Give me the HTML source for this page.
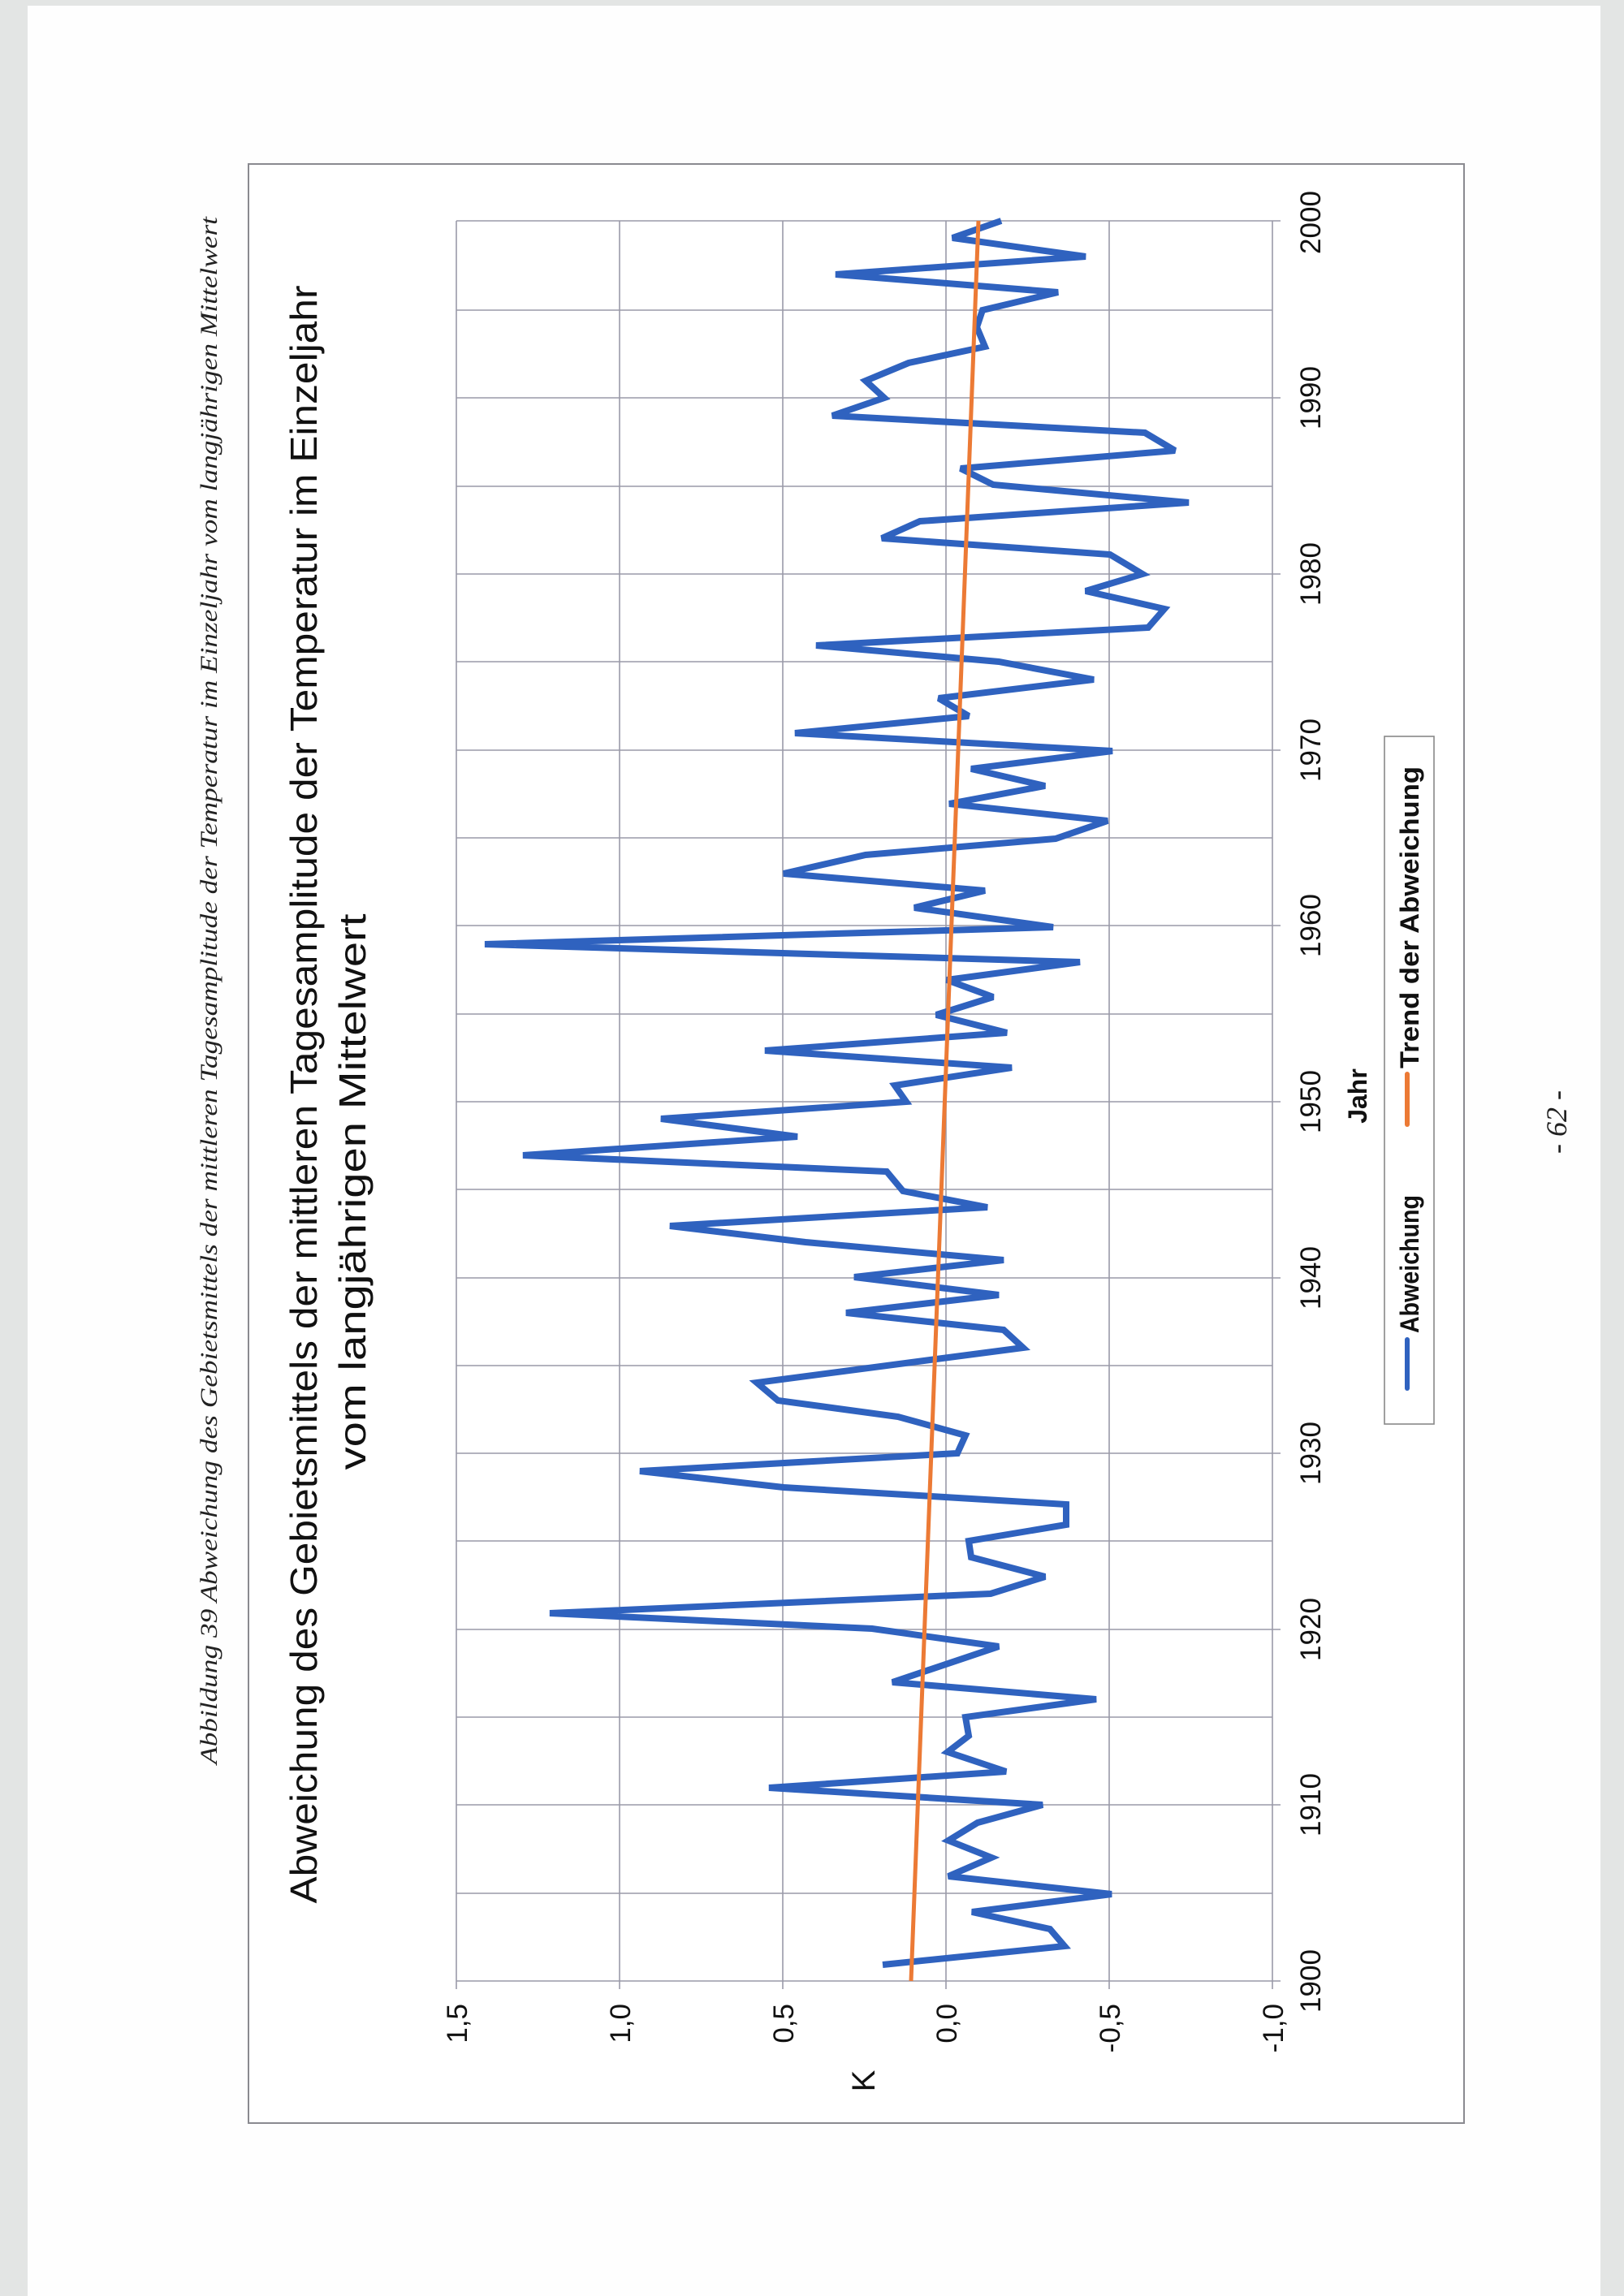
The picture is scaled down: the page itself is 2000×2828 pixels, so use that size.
<!DOCTYPE html>
<html><head><meta charset="utf-8"><style>
html,body{margin:0;padding:0;background:#fff}
svg{display:block}
</style></head><body>
<svg width="2000" height="2828" viewBox="0 0 2000 2828" xmlns="http://www.w3.org/2000/svg">
<rect x="0" y="0" width="2000" height="2828" fill="#e3e5e4"/>
<rect x="34" y="7" width="1937" height="2821" fill="#fefefe"/>
<!-- chart border -->
<rect x="306" y="202" width="1497" height="2413" fill="#fff" stroke="#8a8a90" stroke-width="2"/>
<!-- caption -->
<text transform="translate(267,1220) rotate(-90)" text-anchor="middle" font-family="Liberation Serif, serif" font-style="italic" font-size="30" textLength="1906" lengthAdjust="spacingAndGlyphs" fill="#222">Abbildung 39 Abweichung des Gebietsmittels der mittleren Tagesamplitude der Temperatur im Einzeljahr vom langjährigen Mittelwert</text>
<!-- title -->
<text transform="translate(390,1348) rotate(-90)" text-anchor="middle" font-family="Liberation Sans, sans-serif" font-size="46" textLength="1993" lengthAdjust="spacingAndGlyphs" fill="#111">Abweichung des Gebietsmittels der mittleren Tagesamplitude der Temperatur im Einzeljahr</text>
<text transform="translate(450,1468) rotate(-90)" text-anchor="middle" font-family="Liberation Sans, sans-serif" font-size="46" textLength="685" lengthAdjust="spacingAndGlyphs" fill="#111">vom langjährigen Mittelwert</text>
<!-- grid -->
<g stroke="#9a9aa8" stroke-width="1.6" fill="none">
<line x1="562" y1="272" x2="562" y2="2450"/>
<line x1="763" y1="272" x2="763" y2="2450"/>
<line x1="964" y1="272" x2="964" y2="2450"/>
<line x1="1165" y1="272" x2="1165" y2="2450"/>
<line x1="1366" y1="272" x2="1366" y2="2450"/>
<line x1="1567" y1="272" x2="1567" y2="2450"/>
<line x1="562" y1="2440" x2="1577" y2="2440"/>
<line x1="562" y1="2332" x2="1567" y2="2332"/>
<line x1="562" y1="2223" x2="1577" y2="2223"/>
<line x1="562" y1="2115" x2="1567" y2="2115"/>
<line x1="562" y1="2007" x2="1577" y2="2007"/>
<line x1="562" y1="1898" x2="1567" y2="1898"/>
<line x1="562" y1="1790" x2="1577" y2="1790"/>
<line x1="562" y1="1682" x2="1567" y2="1682"/>
<line x1="562" y1="1574" x2="1577" y2="1574"/>
<line x1="562" y1="1465" x2="1567" y2="1465"/>
<line x1="562" y1="1357" x2="1577" y2="1357"/>
<line x1="562" y1="1249" x2="1567" y2="1249"/>
<line x1="562" y1="1140" x2="1577" y2="1140"/>
<line x1="562" y1="1032" x2="1567" y2="1032"/>
<line x1="562" y1="924" x2="1577" y2="924"/>
<line x1="562" y1="815" x2="1567" y2="815"/>
<line x1="562" y1="707" x2="1577" y2="707"/>
<line x1="562" y1="599" x2="1567" y2="599"/>
<line x1="562" y1="490" x2="1577" y2="490"/>
<line x1="562" y1="382" x2="1567" y2="382"/>
<line x1="562" y1="272" x2="1577" y2="272"/>
</g>
<!-- value labels -->
<g font-family="Liberation Sans, sans-serif" font-size="35" fill="#111" text-anchor="end">
<text transform="translate(575,2468) rotate(-90)">1,5</text>
<text transform="translate(776,2468) rotate(-90)">1,0</text>
<text transform="translate(977,2468) rotate(-90)">0,5</text>
<text transform="translate(1178,2468) rotate(-90)">0,0</text>
<text transform="translate(1379,2468) rotate(-90)">-0,5</text>
<text transform="translate(1580,2468) rotate(-90)">-1,0</text>
</g>
<text transform="translate(1077,2563) rotate(-90)" text-anchor="middle" font-family="Liberation Sans, sans-serif" font-size="40" fill="#111">K</text>
<!-- year labels -->
<g font-family="Liberation Sans, sans-serif" font-size="35" fill="#111" text-anchor="middle">
<text transform="translate(1626,2440) rotate(-90)">1900</text>
<text transform="translate(1626,2223) rotate(-90)">1910</text>
<text transform="translate(1626,2007) rotate(-90)">1920</text>
<text transform="translate(1626,1790) rotate(-90)">1930</text>
<text transform="translate(1626,1574) rotate(-90)">1940</text>
<text transform="translate(1626,1357) rotate(-90)">1950</text>
<text transform="translate(1626,1140) rotate(-90)">1960</text>
<text transform="translate(1626,924) rotate(-90)">1970</text>
<text transform="translate(1626,707) rotate(-90)">1980</text>
<text transform="translate(1626,490) rotate(-90)">1990</text>
<text transform="translate(1626,274) rotate(-90)">2000</text>
</g>
<text transform="translate(1683,1350) rotate(-90)" text-anchor="middle" font-family="Liberation Sans, sans-serif" font-weight="bold" font-size="32" fill="#111">Jahr</text>
<!-- series -->
<polyline fill="none" stroke="#2f62bf" stroke-width="8" stroke-linejoin="miter" stroke-miterlimit="3" points="1087,2420 1311,2397 1293,2376 1197,2355 1369,2333 1168,2311 1221,2288 1168,2267 1204,2245 1284,2223 947,2202 1239,2182 1167,2158 1193,2138 1189,2115 1350,2093 1099,2072 1230,2028 1074,2006 677,1987 1220,1963 1287,1942 1196,1918 1193,1898 1313,1878 1313,1853 965,1832 788,1812 1179,1790 1189,1768 1106,1745 958,1725 932,1703 1260,1660 1236,1638 1042,1617 1230,1595 1052,1573 1236,1552 992,1530 825,1510 1216,1487 1112,1467 1092,1443 644,1423 982,1400 814,1378 1116,1357 1102,1337 1246,1315 942,1294 1240,1272 1153,1250 1223,1228 1166,1207 1330,1185 597,1163 1297,1142 1126,1118 1213,1097 965,1076 1066,1053 1300,1033 1364,1011 1169,990 1287,968 1196,947 1370,925 979,903 1193,882 1156,860 1347,837 1230,815 1005,795 1414,773 1434,750 1337,728 1407,707 1367,683 1086,663 1133,642 1464,619 1223,597 1183,577 1447,555 1410,533 1025,512 1089,490 1066,469 1119,447 1213,427 1203,403 1210,382 1303,360 1029,338 1337,316 1173,293 1233,272"/>
<line x1="1122" y1="2440" x2="1205" y2="272" stroke="#ec7a35" stroke-width="5"/>
<!-- legend -->
<rect x="1705" y="907" width="61" height="847" fill="#fff" stroke="#888" stroke-width="1.6"/>
<line x1="1733" y1="1650" x2="1733" y2="1710" stroke="#2f62bf" stroke-width="6" stroke-linecap="round"/>
<text transform="translate(1747,1642) rotate(-90)" font-family="Liberation Sans, sans-serif" font-weight="bold" font-size="32" textLength="170" lengthAdjust="spacingAndGlyphs" fill="#111">Abweichung</text>
<line x1="1733" y1="1323" x2="1733" y2="1385" stroke="#ec7a35" stroke-width="6" stroke-linecap="round"/>
<text transform="translate(1747,1316) rotate(-90)" font-family="Liberation Sans, sans-serif" font-weight="bold" font-size="32" textLength="372" lengthAdjust="spacingAndGlyphs" fill="#111">Trend der Abweichung</text>
<!-- page number -->
<text transform="translate(1929,1382) rotate(-90)" text-anchor="middle" font-family="Liberation Serif, serif" font-style="italic" font-size="36" fill="#222">- 62 -</text>
</svg>
</body></html>
